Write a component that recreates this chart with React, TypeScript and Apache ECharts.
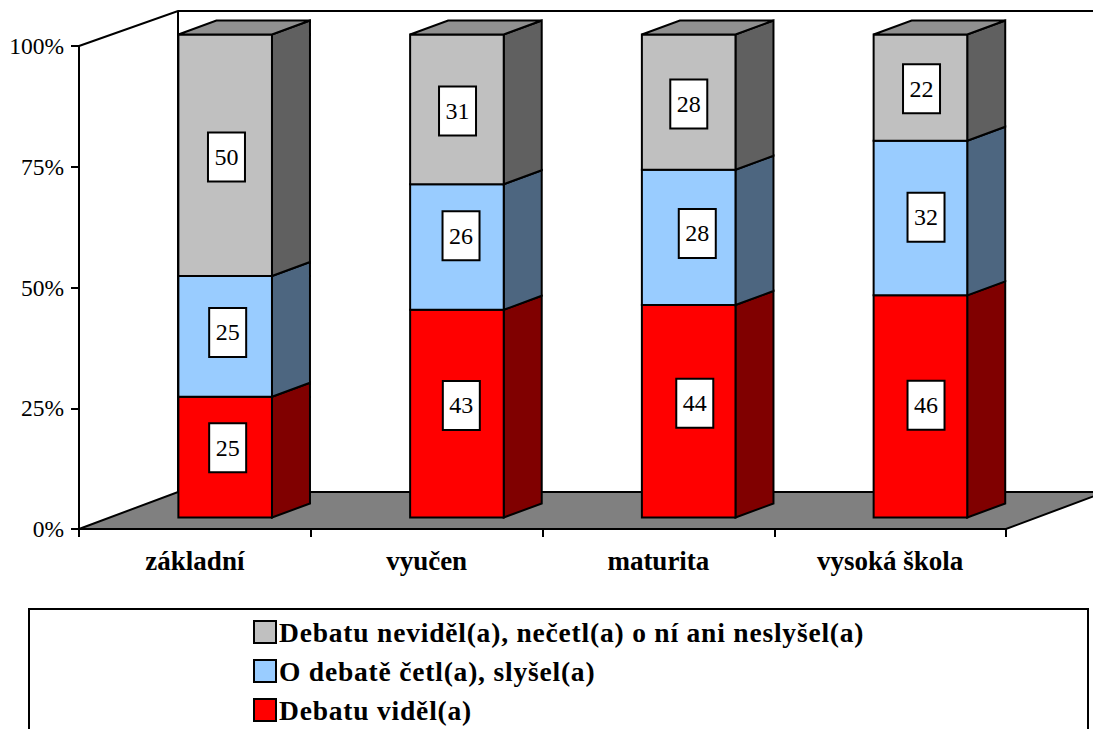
import React, { useEffect, useRef } from "react";
import * as echarts from "echarts";

const categories = ["základní", "vyučen", "maturita", "vysoká škola"];
const seen = [25, 43, 44, 46];
const readHeard = [25, 26, 28, 32];
const notSeen = [50, 31, 28, 22];
const yTicks = [0, 25, 50, 75, 100];
const seriesNames = [
  "Debatu viděl(a)",
  "O debatě četl(a), slyšel(a)",
  "Debatu neviděl(a), nečetl(a) o ní ani neslyšel(a)",
];
const FONT = "'Liberation Serif', 'Times New Roman', serif";

const colors = [
  { front: "#FF0000", side: "#800000" },
  { front: "#99CCFF", side: "#4D6680" },
  { front: "#C0C0C0", side: "#606060" },
];
const TOP_FACE = "#909090";

// Excel placed its label boxes off-centre; these are style offsets from each segment's centre.
const labelNudge = [
  [[2.5, -9.4], [4.4, -8.2], [6.1, -8], [5.6, -1.1]],
  [[2.5, -3.9], [4.1, -11.2], [8.6, -3.9], [5.6, -0.8]],
  [[1.3, 1.8], [0.6, 1.7], [0.1, 1.9], [1.1, 1.1]],
];

function buildRows(own: number[], below: number[][]) {
  return own.map((v, i) => {
    const base = below.reduce((s, arr) => s + arr[i], 0);
    return [i, base, base + v, v];
  });
}

function makeBarRender(idx: number, isTop: boolean) {
  return (_params: any, api: any) => {
    const cat = api.value(0);
    const lo = api.coord([cat, api.value(1)]);
    const hi = api.coord([cat, api.value(2)]);
    const cx = lo[0] + 30.3;
    const hw = 46.8;
    const shiftY = -11.5;
    const dx = 38;
    const dy = -14;
    const xl = cx - hw;
    const xr = cx + hw;
    const yb = lo[1] + shiftY;
    const yt = hi[1] + shiftY;
    const line = { stroke: "#000", lineWidth: 2, lineJoin: "miter" };
    const children: any[] = [
      {
        type: "polygon",
        shape: { points: [[xr, yb], [xr + dx, yb + dy], [xr + dx, yt + dy], [xr, yt]] },
        style: { fill: colors[idx].side, ...line },
      },
      {
        type: "rect",
        shape: { x: xl, y: yt, width: xr - xl, height: yb - yt },
        style: { fill: colors[idx].front, ...line },
      },
    ];
    if (isTop) {
      children.push({
        type: "polygon",
        shape: { points: [[xl, yt], [xl + dx, yt + dy], [xr + dx, yt + dy], [xr, yt]] },
        style: { fill: TOP_FACE, ...line },
      });
    }
    const mx = cx + labelNudge[idx][cat][0];
    const my = (yt + yb) / 2 + labelNudge[idx][cat][1];
    children.push({
      type: "rect",
      shape: { x: mx - 18.5, y: my - 24.5, width: 37, height: 49 },
      style: { fill: "#fff", ...line },
    });
    children.push({
      type: "text",
      style: {
        text: String(api.value(3)),
        x: mx,
        y: my,
        align: "center",
        verticalAlign: "middle",
        fontFamily: FONT,
        fontSize: 24,
        fill: "#000",
      },
    });
    return { type: "group", children };
  };
}

function renderWalls(params: any) {
  const c = params.coordSys;
  const x0 = c.x;
  const x1 = c.x + c.width;
  const yTop = c.y;
  const yBot = c.y + c.height;
  const dx = 99;
  const slopeTop = -35;
  const floorDy = -37;
  const line = { stroke: "#000", lineWidth: 2 };
  return {
    type: "group",
    children: [
      {
        type: "polygon",
        shape: {
          points: [
            [x0, yBot],
            [x0 + dx, yBot + floorDy],
            [x1 + dx, yBot + floorDy],
            [x1, yBot],
          ],
        },
        style: { fill: "#808080", ...line },
      },
      {
        type: "polyline",
        shape: {
          points: [
            [x0, yTop],
            [x0 + dx, yTop + slopeTop],
            [x1 + dx, yTop + slopeTop],
          ],
        },
        style: { fill: "none", ...line },
      },
      {
        type: "line",
        shape: { x1: x0 + dx, y1: yTop + slopeTop, x2: x0 + dx, y2: yBot + floorDy },
        style: line,
      },
    ],
  };
}

export default function App() {
  const ref = useRef<HTMLDivElement>(null);
  useEffect(() => {
    const chart = echarts.init(ref.current!, undefined, { renderer: "svg" });
    const stacks = [seen, readHeard, notSeen];
    chart.setOption({
      animation: false,
      backgroundColor: "#fff",
      grid: { left: 79, right: 87, top: 46, bottom: 200 },
      xAxis: {
        type: "category",
        data: categories,
        z: 5,
        axisLine: { lineStyle: { color: "#000", width: 2 } },
        axisTick: { show: true, length: 8, lineStyle: { color: "#000", width: 2 } },
        axisLabel: {
          color: "#000",
          fontFamily: FONT,
          fontWeight: "bold",
          fontSize: 27,
          margin: 18,
        },
      },
      yAxis: {
        type: "value",
        min: yTicks[0],
        max: yTicks[yTicks.length - 1],
        interval: 25,
        z: 5,
        splitLine: { show: false },
        axisLine: { show: true, lineStyle: { color: "#000", width: 2 } },
        axisTick: { show: true, length: 8, lineStyle: { color: "#000", width: 2 } },
        axisLabel: {
          color: "#000",
          fontFamily: FONT,
          fontSize: 23.5,
          margin: 15,
          formatter: "{value}%",
        },
      },
      legend: {
        orient: "vertical",
        left: 248,
        top: 613,
        height: 300,
        padding: 5,
        itemWidth: 22,
        itemHeight: 22,
        itemGap: 11,
        selectedMode: false,
        icon: "rect",
        data: [seriesNames[2], seriesNames[1], seriesNames[0]],
        textStyle: {
          color: "#000",
          fontFamily: FONT,
          fontWeight: "bold",
          fontSize: 27.5,
          lineHeight: 22,
          padding: [0, 0, 0, -2],
        },
      },
      graphic: [
        {
          type: "rect",
          z: -1,
          shape: { x: 29, y: 609, width: 1059, height: 140 },
          style: { fill: "#fff", stroke: "#000", lineWidth: 2 },
        },
      ],
      series: [
        {
          type: "custom",
          z: 1,
          silent: true,
          data: [[0]],
          encode: { x: 0 },
          renderItem: renderWalls,
        },
        ...stacks.map((vals, idx) => ({
          type: "custom",
          name: seriesNames[idx],
          z: 2 + idx,
          itemStyle: { color: colors[idx].front, borderColor: "#000", borderWidth: 2 },
          data: buildRows(vals, stacks.slice(0, idx)),
          encode: { x: 0, y: [1, 2] },
          renderItem: makeBarRender(idx, idx === 2),
        })),
      ],
    });
    return () => chart.dispose();
  }, []);
  return (
    <div
      ref={ref}
      style={{ position: "fixed", left: 0, top: 0, width: 1093, height: 729, overflow: "hidden" }}
    >
      <style>{`text[style*="27.5px"] { letter-spacing: 0.8px; }`}</style>
    </div>
  );
}
